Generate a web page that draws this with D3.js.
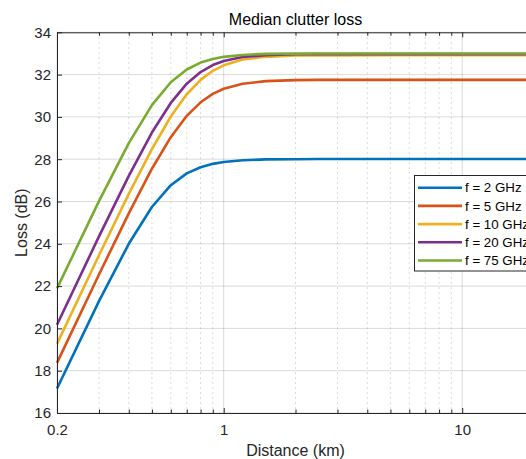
<!DOCTYPE html>
<html>
<head>
<meta charset="utf-8">
<script src="https://cdn.jsdelivr.net/npm/d3@7"></script>
<style>
  body { margin: 0; background: #fff; }
  svg { display: block; font-family: "Liberation Sans", Arial, sans-serif; }
</style>
</head>
<body>
<svg id="svg" width="526" height="459"></svg>
<script>
// distances in km
let distances = [0.2, 0.3, 0.4, 0.5, 0.6, 0.7, 0.8, 0.9, 1, 1.2, 1.5, 2, 2.5, 3, 5, 10, 20];

let names = ["f = 2 GHz", "f = 5 GHz", "f = 10 GHz", "f = 20 GHz", "f = 75 GHz"];
let colors = ["#0072BD", "#D95319", "#EDB120", "#7E2F8E", "#77AC30"];

// loss (dB)
let loss2 = [17.16, 21.29, 24.00, 25.74, 26.77, 27.33, 27.62, 27.78, 27.87, 27.95, 27.99, 28.00, 28.01, 28.01, 28.01, 28.01, 28.01];
let loss5 = [18.37, 22.55, 25.44, 27.55, 29.04, 30.05, 30.69, 31.09, 31.33, 31.57, 31.69, 31.74, 31.75, 31.75, 31.75, 31.75, 31.75];
let loss10 = [19.27, 23.46, 26.36, 28.48, 30.02, 31.07, 31.75, 32.18, 32.44, 32.71, 32.84, 32.90, 32.91, 32.91, 32.92, 32.92, 32.92];
let loss20 = [20.17, 24.35, 27.21, 29.26, 30.66, 31.57, 32.12, 32.45, 32.64, 32.83, 32.92, 32.96, 32.97, 32.97, 32.97, 32.97, 32.97];
let loss75 = [21.89, 26.02, 28.76, 30.56, 31.64, 32.24, 32.57, 32.74, 32.84, 32.93, 32.98, 32.99, 33.00, 33.00, 33.00, 33.00, 33.00];
let series = [loss2, loss5, loss10, loss20, loss75];

let xMajor = [0.2, 1, 10];
let xMinor = [0.3, 0.4, 0.5, 0.6, 0.7, 0.8, 0.9, 2, 3, 4, 5, 6, 7, 8, 9, 20];
let yTicks = [16, 18, 20, 22, 24, 26, 28, 30, 32, 34];

let margin = { left: 57, top: 32.3, right: 534, bottom: 413 };
let axisColor = "#262626";

let svg = d3.select("#svg");

let x = d3.scaleLog().domain([0.2, 20]).range([margin.left, margin.right]);
let y = d3.scaleLinear().domain([16, 34]).range([margin.bottom, margin.top]);

// grid
let grid = svg.append("g");
grid.selectAll(".ygrid").data(yTicks).enter().append("line")
  .attr("x1", margin.left).attr("x2", margin.right)
  .attr("y1", d => y(d)).attr("y2", d => y(d))
  .attr("stroke", "rgba(38,38,38,0.17)").attr("stroke-width", 1);
grid.selectAll(".xgrid").data(xMajor).enter().append("line")
  .attr("x1", d => x(d)).attr("x2", d => x(d))
  .attr("y1", margin.top).attr("y2", margin.bottom)
  .attr("stroke", "rgba(38,38,38,0.17)").attr("stroke-width", 1);
grid.selectAll(".xminor").data(xMinor).enter().append("line")
  .attr("x1", d => x(d)).attr("x2", d => x(d))
  .attr("y1", margin.top).attr("y2", margin.bottom)
  .attr("stroke", "rgba(38,38,38,0.22)").attr("stroke-width", 1)
  .attr("stroke-dasharray", "1.5,3.5");

// lines
let line = d3.line()
  .x((d, i) => x(distances[i]))
  .y(d => y(d));

svg.append("g").selectAll("path").data(series).enter().append("path")
  .attr("fill", "none")
  .attr("stroke", (d, i) => colors[i])
  .attr("stroke-width", 2.6)
  .attr("stroke-linejoin", "round")
  .attr("d", line);

// axes
let bottomAxis = svg.append("g")
  .attr("transform", "translate(0," + margin.bottom + ")")
  .call(d3.axisBottom(x).tickValues(xMajor).tickFormat(d3.format("")).tickSizeInner(-5).tickSizeOuter(0).tickPadding(11));
bottomAxis.append("g").call(d3.axisBottom(x).tickValues(xMinor).tickFormat("").tickSizeInner(-3.5).tickSizeOuter(0))
  .select(".domain").remove();

let topAxis = svg.append("g")
  .attr("transform", "translate(0," + margin.top + ")")
  .call(d3.axisTop(x).tickValues(xMajor).tickFormat("").tickSizeInner(-5).tickSizeOuter(0));
topAxis.append("g").call(d3.axisTop(x).tickValues(xMinor).tickFormat("").tickSizeInner(-3.5).tickSizeOuter(0))
  .select(".domain").remove();

let leftAxis = svg.append("g")
  .attr("transform", "translate(" + margin.left + ",0)")
  .call(d3.axisLeft(y).tickValues(yTicks).tickSizeInner(-5).tickSizeOuter(0).tickPadding(6));

svg.selectAll(".domain, .tick line").attr("stroke", axisColor);
svg.selectAll(".tick text").attr("fill", axisColor).attr("font-size", 15)
  .attr("font-family", "Liberation Sans, Arial, sans-serif");

// labels
svg.append("text")
  .attr("x", (margin.left + margin.right) / 2).attr("y", 24.5)
  .attr("text-anchor", "middle").attr("font-size", 16).attr("fill", "#000")
  .text("Median clutter loss");

svg.append("text")
  .attr("x", (margin.left + margin.right) / 2).attr("y", 456)
  .attr("text-anchor", "middle").attr("font-size", 16).attr("fill", axisColor)
  .text("Distance (km)");

svg.append("text")
  .attr("transform", "translate(26.5," + (margin.top + margin.bottom) / 2 + ") rotate(-90)")
  .attr("text-anchor", "middle").attr("font-size", 16).attr("fill", axisColor)
  .text("Loss (dB)");

// legend (runs past the right edge, as in the original figure)
let legend = svg.append("g").attr("transform", "translate(414,175)");
legend.append("rect")
  .attr("x", 0.5).attr("y", 0.5).attr("width", 124).attr("height", 95.5)
  .attr("fill", "#fff").attr("stroke", axisColor).attr("stroke-width", 1);

let rows = legend.selectAll(".row").data(names).enter().append("g")
  .attr("transform", (d, i) => "translate(0," + (12.7 + i * 18.2) + ")");
rows.append("line")
  .attr("x1", 4).attr("x2", 48)
  .attr("stroke", (d, i) => colors[i]).attr("stroke-width", 2.6);
rows.append("text")
  .attr("x", 51).attr("dy", "0.35em")
  .attr("font-size", 13.3).attr("fill", "#000")
  .text(d => d);
</script>
</body>
</html>
